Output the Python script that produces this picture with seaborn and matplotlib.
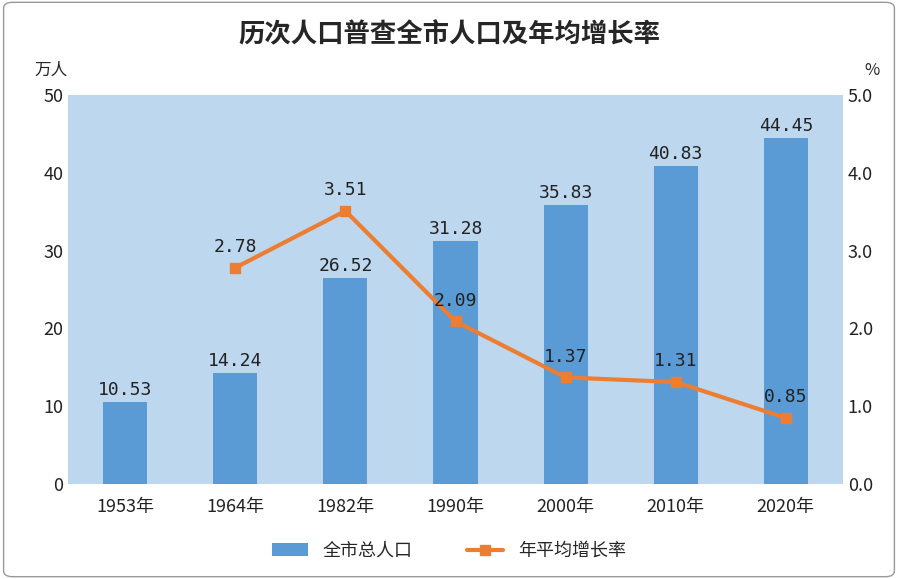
import matplotlib
matplotlib.use('Agg')
import matplotlib.pyplot as plt
import seaborn as sns
import pandas as pd
from matplotlib.patches import FancyBboxPatch

years = ['1953年', '1964年', '1982年', '1990年', '2000年', '2010年', '2020年']
population = [10.53, 14.24, 26.52, 31.28, 35.83, 40.83, 44.45]
growth = [None, 2.78, 3.51, 2.09, 1.37, 1.31, 0.85]

sns.set_theme(style='white')
plt.rcParams['font.family'] = ['Noto Sans CJK SC', 'DejaVu Sans']

df = pd.DataFrame({'year': years, 'pop': population, 'rate': growth})

fig = plt.figure(figsize=(8.98, 5.79), dpi=100)
ax = fig.add_axes([68/898, 1 - 484/579, 775/898, 389/579])
ax.set_facecolor('#bdd7ee')

sns.barplot(data=df, x='year', y='pop', color='#5b9bd5', width=0.4,
            saturation=1, ax=ax, label='全市总人口', linewidth=0, legend=False)
if ax.get_legend():
    ax.get_legend().remove()
ax.set_ylim(0, 50)
ax.set_yticks(range(0, 51, 10))
ax.set_xlabel('')
ax.set_ylabel('')
for i, v in enumerate(population):
    ax.text(i, v + 0.4, f'{v:.2f}', ha='center', va='bottom', fontsize=13,
            family='DejaVu Sans Mono', color='#222222')

ax2 = ax.twinx()
xs = [i for i, r in enumerate(growth) if r is not None]
rs = [r for r in growth if r is not None]
ax2.plot(xs, rs, color='#ed7d31', linewidth=3, marker='s', markersize=7,
         label='年平均增长率')
ax2.set_ylim(0, 5)
ax2.set_yticks([0, 1, 2, 3, 4, 5])
ax2.set_yticklabels([f'{t:.1f}' for t in range(6)])
for x, r in zip(xs, rs):
    ax2.text(x, r + 0.15, f'{r:.2f}', ha='center', va='bottom', fontsize=13,
             family='DejaVu Sans Mono', color='#222222')

for a in (ax, ax2):
    for s in a.spines.values():
        s.set_visible(False)
    a.tick_params(length=0, labelsize=13, colors='#222222')
ax.tick_params(axis='x', labelsize=13, pad=10)

fig.text(68/898, 1 - 75/579, '万人', ha='right', fontsize=12)
fig.text(880/898, 1 - 75/579, '%', ha='right', fontsize=12)
fig.text(0.5, 1 - 35/579, '历次人口普查全市人口及年均增长率', ha='center',
         va='center', fontsize=19, fontweight='bold')

h1, l1 = ax.get_legend_handles_labels()
h2, l2 = ax2.get_legend_handles_labels()
fig.legend(h1 + h2, l1 + l2, loc='center', bbox_to_anchor=(0.5, 1 - 551/579),
           ncol=2, frameon=False, fontsize=13, columnspacing=3)

fig.patches.append(FancyBboxPatch((0.004, 0.004), 0.992, 0.992,
                                  boxstyle='round,pad=0,rounding_size=0.01',
                                  transform=fig.transFigure, fill=False,
                                  edgecolor='#999999', linewidth=1))
fig.savefig('out.png', dpi=100)
